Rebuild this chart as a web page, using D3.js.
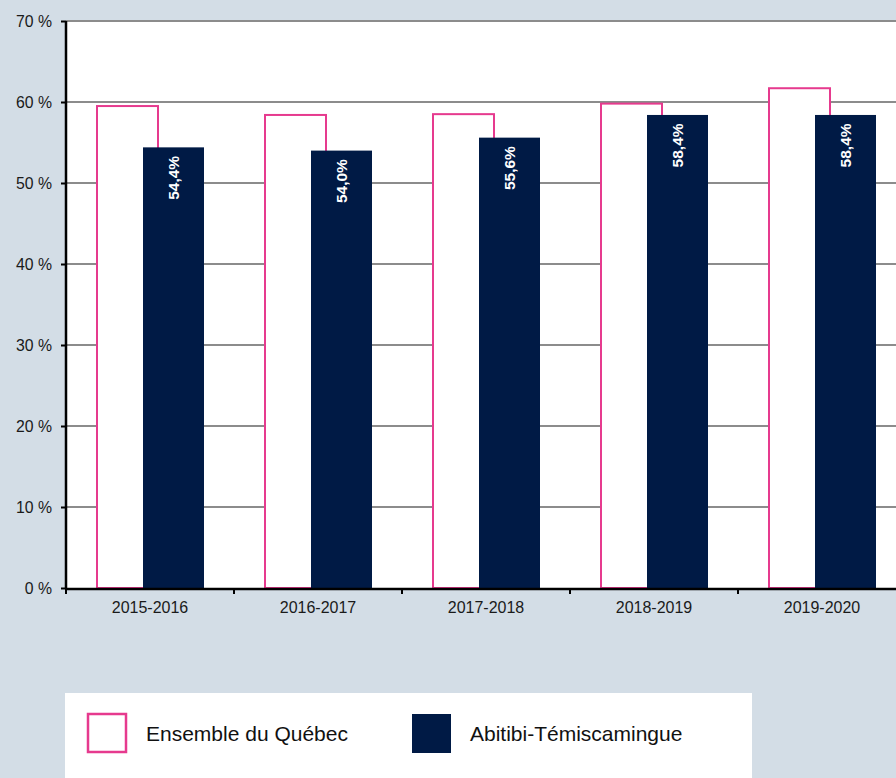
<!DOCTYPE html>
<html><head><meta charset="utf-8">
<script src="https://cdn.jsdelivr.net/npm/d3@7"></script>
<style>
html,body{margin:0;padding:0;background:#d3dde6;}
svg{display:block;font-family:"Liberation Sans",Arial,sans-serif;}
</style></head><body>
<svg id="c" width="896" height="778"></svg>
<script>
const categories = ["2015-2016","2016-2017","2017-2018","2018-2019","2019-2020"];
const quebec = [59.5, 58.4, 58.5, 59.8, 61.7];
const abitibi = [54.4, 54.0, 55.6, 58.4, 58.4];
const yTicks = [0,10,20,30,40,50,60,70];
const seriesNames = ["Ensemble du Québec","Abitibi-Témiscamingue"];

(function(){
const svg = d3.select("#c");
const mLeft = 66, mTop = 21, mBottom = 588, mRight = 906;
const pink = "#e63a8e", navy = "#001a45";
const FF = "Liberation Sans, Arial, sans-serif";

const x = d3.scaleBand().domain(categories).range([mLeft, mRight]);
const y = d3.scaleLinear().domain([0,70]).range([mBottom, mTop]);

svg.append("rect").attr("x", mLeft).attr("y", mTop).attr("width", mRight-mLeft).attr("height", mBottom-mTop).attr("fill", "#fff");

svg.append("g").selectAll("line").data(yTicks.filter(d=>d>0)).join("line")
  .attr("x1", mLeft).attr("x2", mRight).attr("y1", d=>y(d)).attr("y2", d=>y(d))
  .attr("stroke", "#8c8c8c").attr("stroke-width", 2);

const bw = x.bandwidth();
const qOff = bw*31/168, aOff = bw*77/168, barW = bw*61/168;

svg.append("g").selectAll("rect").data(quebec).join("rect")
  .attr("x", (d,i)=>x(categories[i])+qOff)
  .attr("y", d=>y(d))
  .attr("width", barW)
  .attr("height", d=>mBottom-y(d))
  .attr("fill", "#fff").attr("stroke", pink).attr("stroke-width", 2);

svg.append("g").selectAll("rect").data(abitibi).join("rect")
  .attr("x", (d,i)=>x(categories[i])+aOff)
  .attr("y", d=>y(d))
  .attr("width", barW)
  .attr("height", d=>mBottom-y(d))
  .attr("fill", navy);

svg.append("g").selectAll("text").data(abitibi).join("text")
  .attr("transform", (d,i)=>`translate(${x(categories[i])+aOff+barW/2+5.5},${y(d)+8.5}) rotate(-90)`)
  .attr("text-anchor", "end")
  .attr("fill", "#fff").attr("font-weight", "bold").attr("font-size", 15.5).attr("font-family", FF)
  .text(d=>d.toFixed(1).replace(".", ",") + "%");

const yAxis = d3.axisLeft(y).tickValues(yTicks).tickSize(5).tickPadding(9).tickFormat(d=>d+" %");
const gy = svg.append("g").attr("transform", `translate(${mLeft},0)`).call(yAxis);
gy.attr("font-size", 15.8).attr("font-family", FF);
gy.select(".domain").attr("stroke", "#000").attr("stroke-width", 2.5).attr("d", `M0,${mTop}V${mBottom+1}`);
gy.selectAll(".tick line").attr("stroke", "#000").attr("stroke-width", 2);
gy.selectAll(".tick text").attr("fill", "#1a1a1a");

svg.append("line").attr("x1", mLeft-1).attr("x2", mRight).attr("y1", mBottom+1).attr("y2", mBottom+1).attr("stroke", "#000").attr("stroke-width", 2.5);
const gx = svg.append("g");
gx.selectAll("line").data(categories).join("line")
  .attr("x1", d=>x(d)).attr("x2", d=>x(d)).attr("y1", mBottom).attr("y2", mBottom+6)
  .attr("stroke", "#000").attr("stroke-width", 2);
gx.selectAll("text").data(categories).join("text")
  .attr("x", d=>x(d)+bw/2).attr("y", 613)
  .attr("text-anchor", "middle").attr("font-size", 16).attr("fill", "#1a1a1a").attr("font-family", FF)
  .text(d=>d);

const lg = svg.append("g");
lg.append("rect").attr("x", 65).attr("y", 693).attr("width", 687).attr("height", 90).attr("fill", "#fff");
lg.append("rect").attr("x", 88).attr("y", 714).attr("width", 38).attr("height", 38).attr("fill", "#fff").attr("stroke", pink).attr("stroke-width", 2.5);
lg.append("text").attr("x", 146).attr("y", 741).attr("font-size", 21).attr("fill", "#111").attr("font-family", FF).text(seriesNames[0]);
lg.append("rect").attr("x", 412).attr("y", 714).attr("width", 39).attr("height", 39).attr("fill", navy);
lg.append("text").attr("x", 470).attr("y", 741).attr("font-size", 21).attr("fill", "#111").attr("font-family", FF).text(seriesNames[1]);
})();
</script>
</body></html>
